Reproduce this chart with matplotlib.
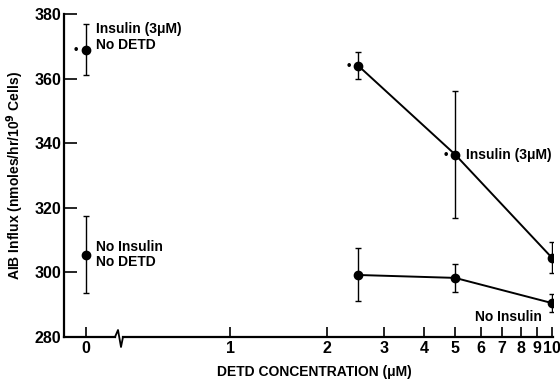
import numpy as np
import matplotlib.pyplot as plt
from matplotlib.lines import Line2D

plt.rcParams['font.family'] = ['Liberation Sans', 'DejaVu Sans']
plt.rcParams['font.weight'] = 'bold'

# control points at DETD = 0
ctrl_x = [0, 0]
ctrl_y = [369, 305.5]
ctrl_err = [8, 12]

# DETD series
detd = [2.5, 5, 10]
ins_y = [364, 336.5, 304.5]
ins_err = [4.2, 19.7, 4.8]
noins_y = [299.2, 298.3, 290.5]
noins_err = [8.2, 4.3, 2.7]

x_ticks = [1, 2, 3, 4, 5, 6, 7, 8, 9, 10]
x_labels = ['1', '2', '3', '4', '5', '6', '7', '8', '9', '10']
y_ticks = [280, 300, 320, 340, 360, 380]

W, H = 560, 381
fig = plt.figure(figsize=(5.6, 3.81), dpi=100)
bot = (H - 337) / H
top = (H - 14) / H
ax0 = fig.add_axes([64 / W, bot, (115 - 64) / W, top - bot])
ax1 = fig.add_axes([123 / W, bot, (553 - 123) / W, top - bot], sharey=ax0)
ax1.patch.set_visible(False)

eb = dict(fmt='o', color='black', ms=6, lw=1.4, elinewidth=1.0, capsize=2.5, capthick=1.0)

ax0.errorbar(ctrl_x, ctrl_y, yerr=ctrl_err, **eb)
ax0.set_xlim(-1, 29 / 22)
ax0.set_ylim(280, 380)
ax0.set_xticks([0])
ax0.set_xticklabels(['0'])
ax0.set_yticks(y_ticks)

ax1.errorbar(detd, ins_y, yerr=ins_err, **eb, linestyle='-')
ax1.errorbar(detd, noins_y, yerr=noins_err, **eb, linestyle='-')
ax1.set_xscale('log')
ax1.set_xlim(0.465, 10.07)
ax1.xaxis.set_major_locator(plt.FixedLocator(x_ticks))
ax1.xaxis.set_major_formatter(plt.FixedFormatter(x_labels))
ax1.xaxis.set_minor_locator(plt.NullLocator())

for ax in (ax0, ax1):
    ax.spines['top'].set_visible(False)
    ax.spines['right'].set_visible(False)
    ax.spines['bottom'].set_linewidth(1.6)
    ax.spines['left'].set_linewidth(1.6)
    ax.tick_params(axis='x', direction='in', length=7, width=1.2, labelsize=11.5, pad=3)
    ax.tick_params(axis='y', direction='in', length=9, width=1.2, labelsize=11.5, pad=2)
ax1.spines['left'].set_visible(False)
ax1.tick_params(axis='y', left=False, labelleft=False)

# axis break zigzag
zx = np.array([115, 118, 121, 123]) / W
zy = (H - np.array([337, 330, 347, 337])) / H
fig.add_artist(Line2D(zx, zy, color='black', lw=1.3))

# significance dots
ax0.annotate('•', (0, ctrl_y[0]), xytext=(-7, 0), textcoords='offset points',
             ha='center', va='center', fontsize=9, annotation_clip=False)
for xv, yv in zip(detd[:2], ins_y[:2]):
    ax1.annotate('•', (xv, yv), xytext=(-7, 0), textcoords='offset points',
                 ha='center', va='center', fontsize=9)

ax0.annotate('Insulin (3μM)\nNo DETD', (0, ctrl_y[0]), xytext=(7, 9),
             textcoords='offset points', ha='left', va='center', fontsize=10, linespacing=1.15)
ax0.annotate('No Insulin\nNo DETD', (0, ctrl_y[1]), xytext=(7, 0),
             textcoords='offset points', ha='left', va='center', fontsize=10, linespacing=1.15)
ax1.annotate('Insulin (3μM)', (5, ins_y[1]), xytext=(8, 0),
             textcoords='offset points', ha='left', va='center', fontsize=10)
ax1.annotate('No Insulin', (10, noins_y[2]), xytext=(-7, -10),
             textcoords='offset points', ha='right', va='center', fontsize=10)

fig.text(314 / W, (H - 372) / H, 'DETD CONCENTRATION (μM)', ha='center', va='center', fontsize=10)
fig.text(15 / W, (H - 175) / H, 'AIB Influx (nmoles/hr/10$^9$ Cells)', ha='center', va='center',
         rotation=90, fontsize=10)

fig.savefig('out.png', dpi=100)
